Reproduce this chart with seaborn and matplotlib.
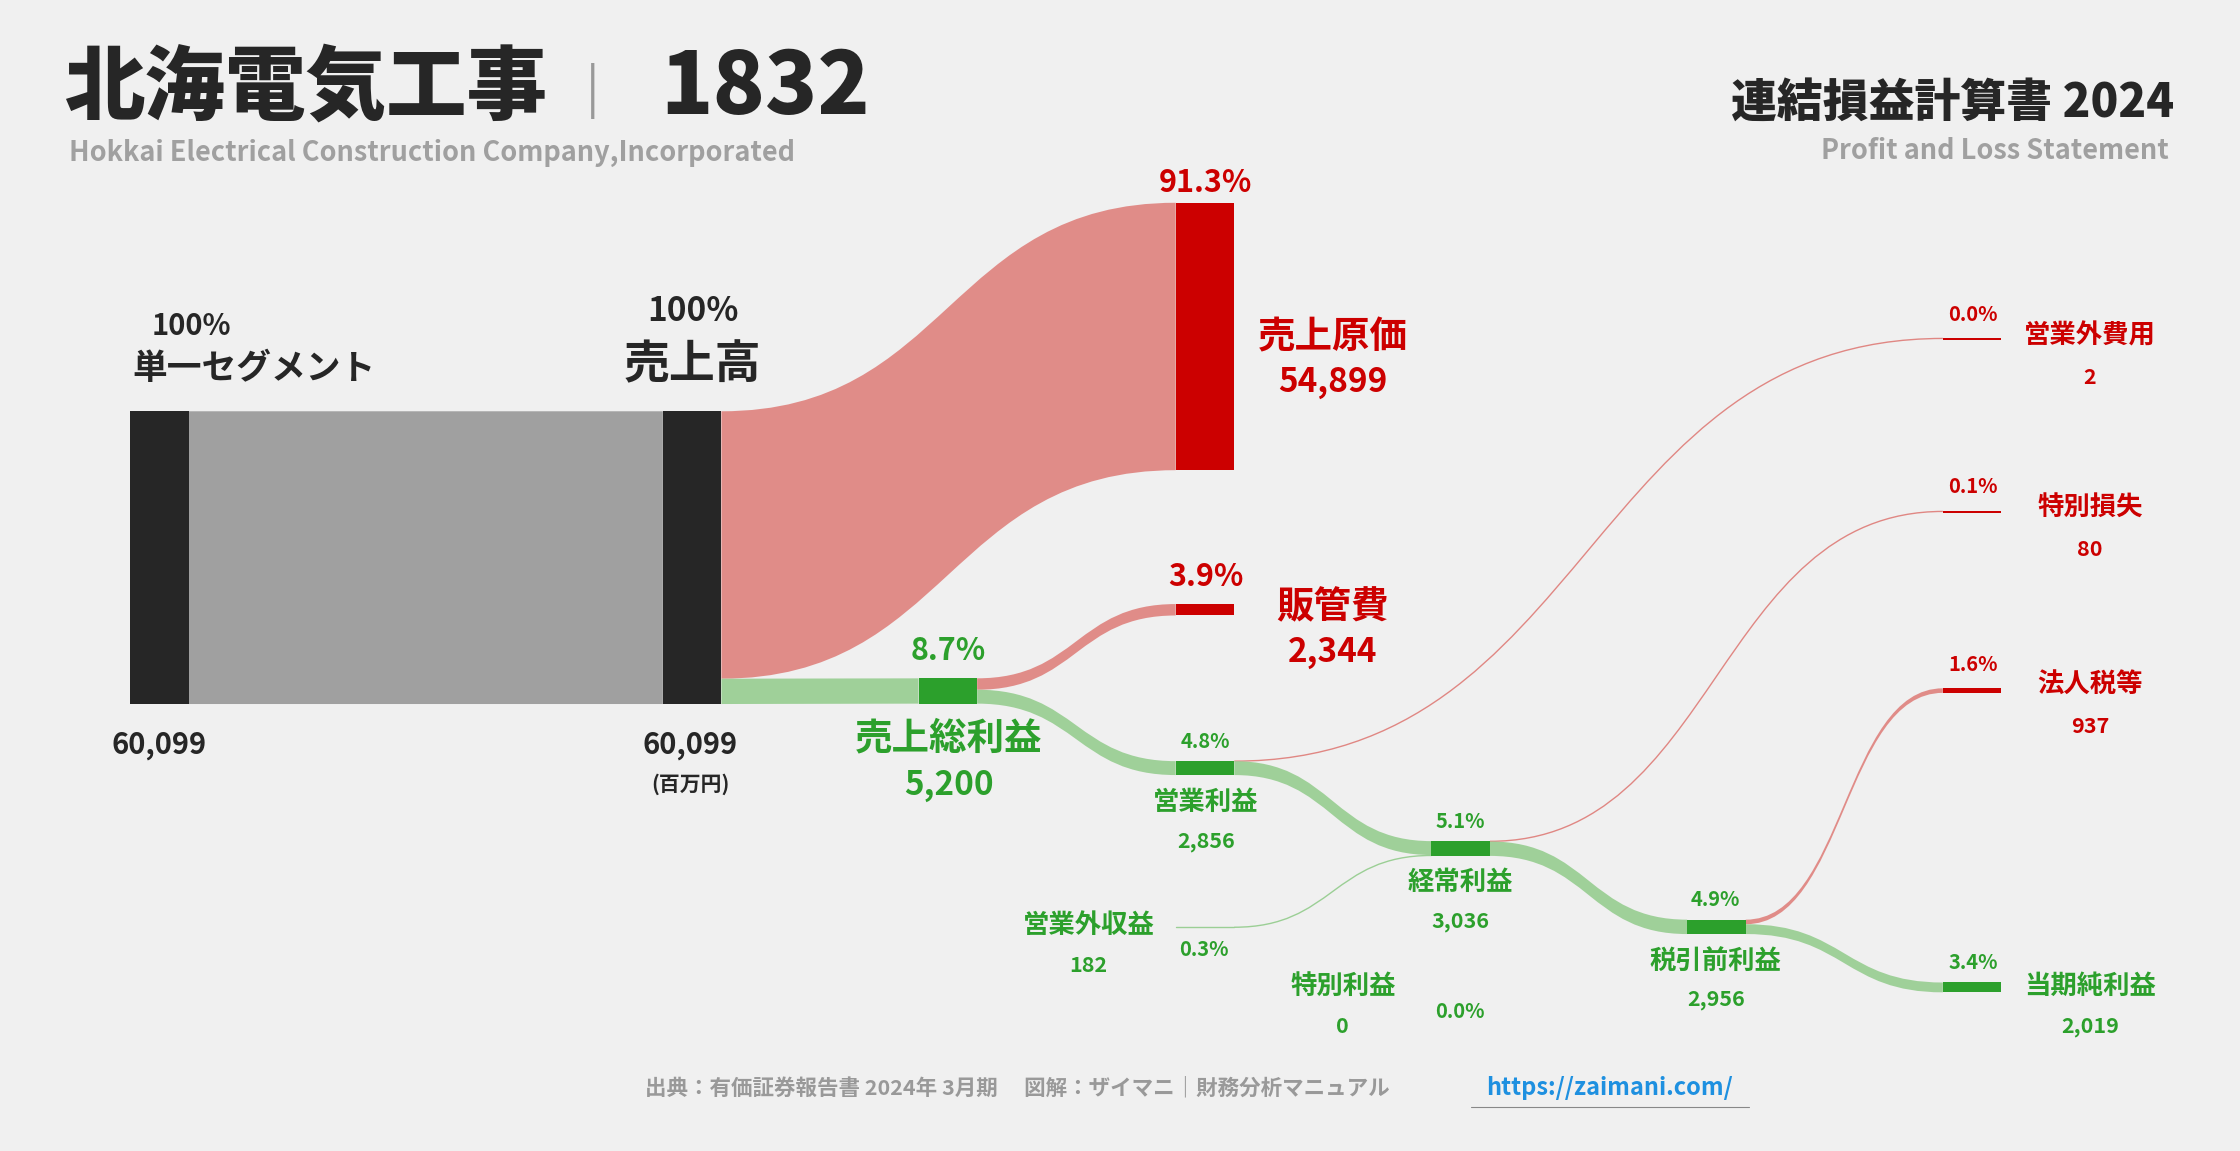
import matplotlib
matplotlib.use("Agg")
import matplotlib.pyplot as plt
import seaborn as sns
from matplotlib.path import Path
from matplotlib.patches import PathPatch, Rectangle

sns.set_theme(style="white")
F = "Noto Sans CJK JP"
plt.rcParams["font.family"] = F

# ---- data (百万円) ----
node_names = ["単一セグメント", "売上高", "売上原価", "売上総利益", "販管費", "営業利益",
              "営業外収益", "営業外費用", "経常利益", "特別利益", "特別損失", "税引前利益", "法人税等", "当期純利益"]
node_values = [60099, 60099, 54899, 5200, 2344, 2856, 182, 2, 3036, 0, 80, 2956, 937, 2019]
node_pcts = ["100%", "100%", "91.3%", "8.7%", "3.9%", "4.8%", "0.3%", "0.0%", "5.1%", "0.0%", "0.1%", "4.9%", "1.6%", "3.4%"]
flows = [("単一セグメント", "売上高", 60099), ("売上高", "売上原価", 54899), ("売上高", "売上総利益", 5200),
         ("売上総利益", "販管費", 2344), ("売上総利益", "営業利益", 2856),
         ("営業利益", "営業外費用", 2), ("営業利益", "経常利益", 2854), ("営業外収益", "経常利益", 182),
         ("経常利益", "特別損失", 80), ("経常利益", "税引前利益", 2956),
         ("税引前利益", "法人税等", 937), ("税引前利益", "当期純利益", 2019)]

# ---- layout (display px units) ----
BG = "#F0F0F0"; RED = "#CC0000"; PINK = "#E08783"; GREEN = "#2CA02C"; LGREEN = "#9BCF95"; DARK = "#262626"; GRAY = "#A0A0A0"
k = 205 / 60099
pos = {"単一セグメント": (91, 288), "売上高": (464, 288), "売上原価": (823, 142), "売上総利益": (643, 475),
       "販管費": (823, 423), "営業利益": (823, 533), "営業外収益": (823, 649), "営業外費用": (1360, 237),
       "経常利益": (1002, 589), "特別利益": (1002, 700), "特別損失": (1360, 358), "税引前利益": (1181, 644),
       "法人税等": (1360, 482), "当期純利益": (1360, 688)}
W = 41
bar_color = {"単一セグメント": DARK, "売上高": DARK, "売上原価": RED, "販管費": RED, "営業外費用": RED,
             "特別損失": RED, "法人税等": RED}
val = dict(zip(node_names, node_values))
pct = dict(zip(node_names, node_pcts))

fig = plt.figure(figsize=(22.4, 11.51), dpi=100, facecolor=BG)
ax = fig.add_axes([0, 0, 1, 1])
ax.set_xlim(0, 1568); ax.set_ylim(806, 0); ax.axis("off"); ax.set_facecolor(BG)

def h(n):
    return max(val[n] * k, 0.0)

out_off = {n: 0.0 for n in node_names}; in_off = {n: 0.0 for n in node_names}
for s, d, v in flows:
    t = v * k
    x0 = pos[s][0] + W; x1 = pos[d][0]
    y0 = pos[s][1] + out_off[s]; y1 = pos[d][1] + in_off[d]
    out_off[s] += t; in_off[d] += t
    col = GRAY if s == "単一セグメント" else (PINK if d in bar_color else LGREEN)
    xm = (x0 + x1) / 2
    if t < 1.2:
        p = Path([(x0, y0 + t / 2), (xm, y0 + t / 2), (xm, y1 + t / 2), (x1, y1 + t / 2)],
                 [Path.MOVETO, Path.CURVE4, Path.CURVE4, Path.CURVE4])
        ax.add_patch(PathPatch(p, fc="none", ec=col, lw=1.0))
        if s == "営業外収益":
            ax.plot([x0 - W, x0], [y0, y0], color=col, lw=1.0)
    else:
        verts = [(x0, y0), (xm, y0), (xm, y1), (x1, y1), (x1, y1 + t), (xm, y1 + t), (xm, y0 + t), (x0, y0 + t), (x0, y0)]
        codes = [Path.MOVETO, Path.CURVE4, Path.CURVE4, Path.CURVE4, Path.LINETO,
                 Path.CURVE4, Path.CURVE4, Path.CURVE4, Path.CLOSEPOLY]
        ax.add_patch(PathPatch(Path(verts, codes), fc=col, ec="none", alpha=0.95 if col != GRAY else 1))

for n in node_names:
    if n in ("営業外収益", "特別利益"):
        continue
    x, y = pos[n]
    ax.add_patch(Rectangle((x, y), W, max(h(n), 1.3), fc=bar_color.get(n, GREEN), ec="none", zorder=3))

def T(x, y, s, size, c=DARK, ha="center", w="bold", **kw):
    ax.text(x, y, s, fontsize=size, color=c, ha=ha, va="center", fontweight=w, **kw)

# titles
T(45, 62, "北海電気工事", 58, ha="left", w="black")
T(410, 64, "|", 36, c="#999999", ha="left", w="normal")
T(462, 62, "1832", 62, ha="left", w="black")
T(48, 107, "Hokkai Electrical Construction Company,Incorporated", 19.5, c="#A0A0A0", ha="left")
T(1522, 72, "連結損益計算書 2024", 33, ha="right", w="black")
T(1518, 106, "Profit and Loss Statement", 19.5, c="#A0A0A0", ha="right")

# big labels
T(134, 228, pct["単一セグメント"], 21); T(178, 258, "単一セグメント", 25)
T(111, 522, f"{val['単一セグメント']:,}", 21)
T(485, 218, pct["売上高"], 24); T(485, 256, "売上高", 33)
T(483, 522, f"{val['売上高']:,}", 21); T(483, 549, "(百万円)", 15)
T(844, 128, pct["売上原価"], 22, c=RED)
T(933, 236, "売上原価", 27, c=RED); T(933, 268, f"{val['売上原価']:,}", 24, c=RED)
T(844, 404, pct["販管費"], 22, c=RED)
T(933, 425, "販管費", 27, c=RED); T(933, 457, f"{val['販管費']:,}", 24, c=RED)
T(664, 456, pct["売上総利益"], 22, c=GREEN)
T(664, 517, "売上総利益", 27, c=GREEN); T(664, 550, f"{val['売上総利益']:,}", 24, c=GREEN)

T(844, 519, pct["営業利益"], 14.5, c=GREEN); T(844, 562, "営業利益", 19, c=GREEN); T(844, 589, f"{val['営業利益']:,}", 15.5, c=GREEN)
T(1022, 575, pct["経常利益"], 14.5, c=GREEN); T(1022, 618, "経常利益", 19, c=GREEN); T(1022, 645, f"{val['経常利益']:,}", 15.5, c=GREEN)
T(1201, 630, pct["税引前利益"], 14.5, c=GREEN); T(1201, 673, "税引前利益", 19, c=GREEN); T(1201, 700, f"{val['税引前利益']:,}", 15.5, c=GREEN)
T(762, 648, "営業外収益", 19, c=GREEN); T(762, 676, f"{val['営業外収益']:,}", 15.5, c=GREEN); T(843, 665, pct["営業外収益"], 14.5, c=GREEN)
T(940, 691, "特別利益", 19, c=GREEN); T(940, 719, f"{val['特別利益']:,}", 15.5, c=GREEN); T(1022, 708, pct["特別利益"], 14.5, c=GREEN)
for n, y in [("営業外費用", 237), ("特別損失", 358), ("法人税等", 482)]:
    T(1381, y - 17, pct[n], 14.5, c=RED)
    T(1463, y - 2, n, 19, c=RED); T(1463, y + 27, f"{val[n]:,}", 15.5, c=RED)
T(1381, 674, pct["当期純利益"], 14.5, c=GREEN)
T(1463, 691, "当期純利益", 19, c=GREEN); T(1463, 719, f"{val['当期純利益']:,}", 15.5, c=GREEN)

# footer
T(712, 762, "出典：有価証券報告書 2024年 3月期　 図解：ザイマニ｜財務分析マニュアル", 15.5, c="#999999")
T(1127, 762, "https://zaimani.com/", 17, c="#1E90E0")
ax.plot([1030, 1224], [775, 775], color="#888888", lw=0.8)

fig.savefig("out.png", dpi=100, facecolor=BG)
